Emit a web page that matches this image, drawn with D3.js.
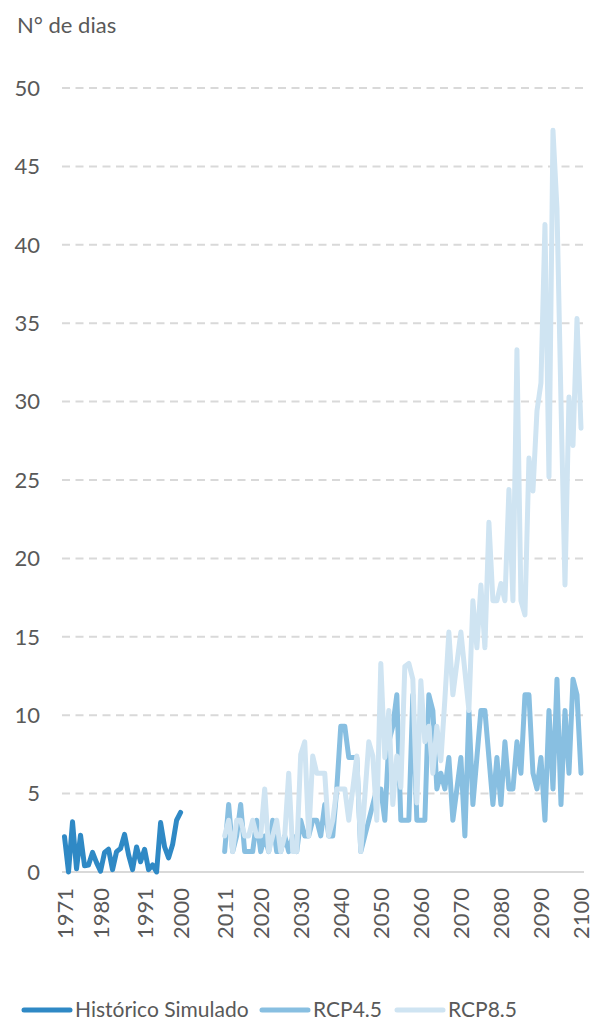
<!DOCTYPE html>
<html>
<head>
<meta charset="utf-8">
<script src="https://cdn.jsdelivr.net/npm/d3@7"></script>
<style>
  body { margin: 0; background: #fff; }
  svg text { font-family: Lato, "Open Sans", sans-serif; fill: #595959; }
</style>
</head>
<body>
<svg width="606" height="1021"></svg>
<script>
// years (categories)
var histYears = d3.range(1971, 2001);
var projYears = d3.range(2011, 2101);

// Histórico Simulado 1971-2000
var historico = [2.25, 0, 3.2, 0.2, 2.35, 0.4, 0.45, 1.25, 0.6, 0.05,
                 1.25, 1.45, 0.15, 1.3, 1.5, 2.4, 1.1, 0.15, 1.6, 0.65,
                 1.45, 0.15, 0.45, 0, 3.15, 1.6, 0.9, 1.75, 3.3, 3.8];

// RCP4.5 2011-2100
var rcp45 = [1.3, 4.3, 1.3, 2.3, 4.3, 1.3, 1.3, 1.3, 3.3, 1.3,
             2.3, 1.3, 3.3, 1.3, 1.3, 2.3, 1.3, 2.3, 1.3, 3.3,
             2.3, 2.3, 3.3, 3.3, 2.3, 4.3, 2.3, 2.3, 5.3, 9.3,
             9.3, 7.3, 7.3, 7.3, 1.3, 2.3, 3.3, 4.3, 5.3, 5.3,
             3.3, 8.3, 9.3, 11.3, 3.3, 3.3, 3.3, 11.3, 3.3, 3.3,
             3.3, 11.3, 10.3, 5.3, 6.3, 5.3, 7.3, 3.3, 5.3, 7.3,
             2.3, 10.3, 4.3, 7.3, 10.3, 10.3, 7.3, 4.3, 7.3, 4.3,
             8.3, 5.3, 5.3, 8.3, 6.3, 11.3, 11.3, 6.3, 5.3, 7.3,
             3.3, 10.3, 5.3, 12.3, 4.3, 10.3, 6.3, 12.3, 11.3, 6.3];

// RCP8.5 2011-2100
var rcp85 = [2.3, 3.3, 1.3, 3.3, 3.3, 2.3, 2.3, 3.3, 2.3, 2.3,
             5.3, 1.3, 2.3, 3.3, 1.3, 2.3, 6.3, 1.3, 1.3, 7.5,
             8.3, 2.3, 7.4, 6.3, 6.3, 6.3, 2.3, 3.3, 5.3, 5.3,
             5.3, 3.3, 5.3, 7.4, 1.3, 4.8, 8.3, 7.4, 3.3, 13.3,
             7.3, 10.3, 4.3, 7.4, 5.4, 13.1, 13.3, 12.3, 4.4, 12.2,
             8.3, 9.3, 6.3, 9.3, 7.1, 11.0, 15.3, 11.3, 13.3, 15.3,
             12.8, 10.3, 17.3, 14.3, 18.3, 14.3, 22.3, 17.3, 17.3, 18.4,
             17.3, 24.4, 17.3, 33.3, 17.3, 16.4, 26.4, 24.3, 29.4, 31.2,
             41.3, 25.2, 47.3, 42.3, 30.0, 18.3, 30.3, 27.2, 35.3, 28.3];

var xTickYears = [1971, 1980, 1991, 2000, 2011, 2020, 2030, 2040, 2050,
                  2060, 2070, 2080, 2090, 2100];
var yTicks = [0, 5, 10, 15, 20, 25, 30, 35, 40, 45, 50];

var seriesNames = ['Histórico Simulado', 'RCP4.5', 'RCP8.5'];
var seriesColors = ['#2f89c5', '#88bfe1', '#cfe4f2'];

var svg = d3.select('svg');

var x = d3.scaleLinear().domain([1971, 2100]).range([64.5, 581]);
var y = d3.scaleLinear().domain([0, 50]).range([872, 88]);

// title
svg.append('text')
  .attr('x', 17)
  .attr('y', 33)
  .style('font-size', '22px')
  .text('N° de dias');

// gridlines
svg.selectAll('.grid')
    .data(yTicks.filter(function(t) { return t > 0; }))
  .enter().append('line')
    .attr('x1', 62)
    .attr('x2', 584)
    .attr('y1', function(t) { return y(t); })
    .attr('y2', function(t) { return y(t); })
    .attr('stroke', '#d9d9d9')
    .attr('stroke-width', 2)
    .attr('stroke-dasharray', '8,5.5');

// baseline
svg.append('line')
  .attr('x1', 62).attr('x2', 584)
  .attr('y1', y(0)).attr('y2', y(0))
  .attr('stroke', '#d9d9d9')
  .attr('stroke-width', 2);

// y labels
svg.selectAll('.ylab')
    .data(yTicks)
  .enter().append('text')
    .attr('x', 40)
    .attr('y', function(t) { return y(t); })
    .attr('dy', '0.35em')
    .attr('text-anchor', 'end')
    .style('font-size', '22px')
    .text(function(t) { return t; });

// x labels (rotated)
svg.selectAll('.xlab')
    .data(xTickYears)
  .enter().append('text')
    .attr('transform', function(d) { return 'translate(' + (x(d) + 8) + ',888) rotate(-90)'; })
    .attr('text-anchor', 'end')
    .style('font-size', '22px')
    .text(function(d) { return d; });

var line = d3.line()
  .x(function(d) { return x(d[0]); })
  .y(function(d) { return y(d[1]); });

var seriesData = [
  d3.zip(histYears, historico),
  d3.zip(projYears, rcp45),
  d3.zip(projYears, rcp85)
];

seriesData.forEach(function(data, i) {
  svg.append('path')
    .datum(data)
    .attr('d', line)
    .attr('fill', 'none')
    .attr('stroke', seriesColors[i])
    .attr('stroke-width', 5)
    .attr('stroke-linejoin', 'round')
    .attr('stroke-linecap', 'round');
});

// legend
var legendX = [24, 262, 397];
var legend = svg.selectAll('.legend')
    .data(seriesNames)
  .enter().append('g')
    .attr('transform', function(d, i) { return 'translate(' + legendX[i] + ',1010)'; });

legend.append('line')
  .attr('x1', 0).attr('x2', 46)
  .attr('y1', 0).attr('y2', 0)
  .attr('stroke', function(d, i) { return seriesColors[i]; })
  .attr('stroke-width', 5)
  .attr('stroke-linecap', 'round');

legend.append('text')
  .attr('x', 51)
  .attr('y', 0)
  .attr('dy', '0.35em')
  .style('font-size', '21px')
  .text(function(d) { return d; });
</script>
</body>
</html>
